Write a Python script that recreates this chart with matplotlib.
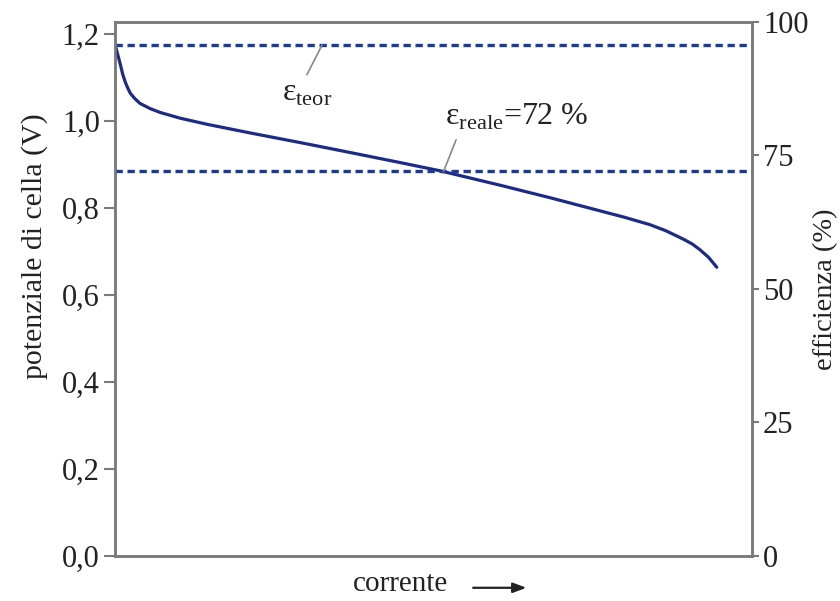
import matplotlib
matplotlib.use("Agg")
import matplotlib.pyplot as plt

# Polarisation curve of a fuel cell: cell potential vs. current (arbitrary units)
current = [0.0, 0.3, 0.8, 1.2, 1.6, 2.0, 2.4, 3.1, 3.9, 5.5, 7.1, 10.2, 14.4,
           21.2, 29.0, 36.9, 44.7, 51.0, 60.4, 68.3, 76.1, 80.0, 84.0, 86.5,
           89.2, 90.6, 91.8, 93.2, 94.5]
potential = [1.175, 1.160, 1.132, 1.108, 1.090, 1.076, 1.064, 1.052, 1.041,
             1.029, 1.020, 1.007, 0.993, 0.973, 0.951, 0.928, 0.905, 0.886,
             0.853, 0.824, 0.794, 0.779, 0.762, 0.748, 0.729, 0.718, 0.705,
             0.687, 0.664]

e_max_volt = 1.229          # potential corresponding to 100 % efficiency
eff_teor = 95.6             # theoretical efficiency (%)
eff_reale = 72              # real efficiency (%)

left_ticks = [0.0, 0.2, 0.4, 0.6, 0.8, 1.0, 1.2]
left_labels = ["0,0", "0,2", "0,4", "0,6", "0,8", "1,0", "1,2"]
right_ticks = [0, 25, 50, 75, 100]

plt.rcParams["font.family"] = ["Liberation Serif", "DejaVu Serif"]
plt.rcParams["mathtext.fontset"] = "custom"
plt.rcParams["mathtext.rm"] = "Liberation Serif"

spine_col = "#7a7a7a"
text_col = "#222222"
curve_col = "#1c2a88"
dash_col = "#1d3a94"

fig = plt.figure(figsize=(8.4, 6.01), dpi=100)
ax = fig.add_axes([0.137, 0.075, 0.758, 0.889])
ax2 = ax.twinx()

ax.plot(current, potential, color=curve_col, lw=2.3, solid_capstyle="round",
        solid_joinstyle="round", zorder=3)

ax2.axhline(eff_teor, color=dash_col, lw=2.4, ls=(0, (2.2, 1.4)), zorder=2)
ax2.axhline(eff_reale, color=dash_col, lw=2.4, ls=(0, (2.2, 1.4)), zorder=2)

ax.set_xlim(0, 100)
ax.set_ylim(0, e_max_volt)
ax2.set_ylim(0, 100)

ax.set_xticks([])
ax.set_yticks(left_ticks)
ax.set_yticklabels(left_labels)
ax2.set_yticks(right_ticks)
ax2.set_yticklabels([str(t) for t in right_ticks])

for a in (ax, ax2):
    for s in a.spines.values():
        s.set_color(spine_col)
        s.set_linewidth(1.8)
ax.tick_params(axis="y", direction="out", length=8, width=1.5, color=spine_col,
               labelsize=22, labelcolor=text_col, pad=3)
ax2.tick_params(axis="y", direction="out", length=5, width=1.5, color=spine_col,
                labelsize=22, labelcolor=text_col, pad=3)

ax.set_ylabel("potenziale di cella (V)", fontsize=21.5, color=text_col)
ax.yaxis.set_label_coords(-0.105, 0.58)
ax2.set_ylabel("efficienza (%)", fontsize=20.5, color=text_col)
ax2.yaxis.set_label_coords(1.097, 0.5)

# Efficiency annotations with leader lines
ax2.annotate(r"ε$_{\mathrm{teor}}$", xy=(32.5, eff_teor),
             xytext=(30.2, 86.6), fontsize=23, color=text_col,
             ha="center", va="center",
             arrowprops=dict(arrowstyle="-", color="#888888", lw=1.2,
                             shrinkA=1, shrinkB=0, relpos=(0.45, 1.0)))
ax2.annotate(r"ε$_{\mathrm{reale}}$=72 %", xy=(51.6, eff_reale),
             xytext=(51.8, 82.2), fontsize=23, color=text_col,
             ha="left", va="center",
             arrowprops=dict(arrowstyle="-", color="#888888", lw=1.2,
                             shrinkA=4, shrinkB=0,
                             relpos=(0.10, 0.0)))

# x-axis caption with arrow
fig.text(0.477, 0.028, "corrente", fontsize=21, color=text_col,
         ha="center", va="center")
fig.add_artist(matplotlib.patches.FancyArrowPatch(
    (0.560, 0.022), (0.630, 0.022), transform=fig.transFigure,
    arrowstyle="-|>,head_length=8,head_width=3", color=text_col, lw=1.6))

fig.savefig("out.png", dpi=100, facecolor="white")
